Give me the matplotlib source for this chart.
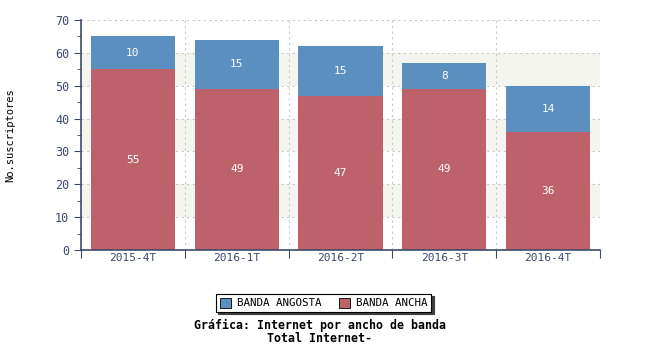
import matplotlib.pyplot as plt
import numpy as np

periodos = ["2015-4T", "2016-1T", "2016-2T", "2016-3T", "2016-4T"]
banda_ancha = [55, 49, 47, 49, 36]
banda_angosta = [10, 15, 15, 8, 14]

azul = "#5b8fbf"
rojo = "#bd616b"
eje = "#3d4a6b"

plt.rcParams["font.family"] = "DejaVu Sans Mono"

fig = plt.figure(figsize=(6.5, 3.5), dpi=100)
ax = fig.add_axes([0.1246, 0.2857, 0.7985, 0.6572])

x = np.arange(len(periodos))
ax.set_xlim(-0.5, len(periodos) - 0.5)
ax.set_ylim(0, 70)

# bandas alternas de fondo
for y0 in range(10, 70, 20):
    ax.axhspan(y0, y0 + 10, color="#f5f5f0", zorder=0, lw=0)

# rejilla punteada
for y in range(10, 71, 10):
    ax.axhline(y, color="#c8c8c8", ls=(0, (2, 3)), lw=0.8, zorder=1)
for xb in np.arange(0.5, len(periodos), 1):
    ax.axvline(xb, color="#c8c8c8", ls=(0, (2, 3)), lw=0.8, zorder=1)

ax.bar(x, banda_ancha, width=0.81, color=rojo, zorder=2, label="BANDA ANCHA")
ax.bar(x, banda_angosta, width=0.81, bottom=banda_ancha, color=azul, zorder=2,
       label="BANDA ANGOSTA")

for i in range(len(periodos)):
    ax.text(x[i], banda_ancha[i] / 2, str(banda_ancha[i]), ha="center", va="center",
            color="white", fontsize=8, zorder=3)
    ax.text(x[i], banda_ancha[i] + banda_angosta[i] / 2, str(banda_angosta[i]),
            ha="center", va="center", color="white", fontsize=8, zorder=3)

for s in ["top", "right"]:
    ax.spines[s].set_visible(False)
for s in ["left", "bottom"]:
    ax.spines[s].set_color(eje)
    ax.spines[s].set_linewidth(1.2)

ax.set_yticks(range(0, 71, 10))
ax.set_yticks(range(5, 70, 10), minor=True)
ax.set_xticks(np.arange(-0.5, len(periodos), 1))
ax.set_xticklabels([])
ax.set_xticks(x, minor=True)
ax.set_xticklabels(periodos, minor=True)
ax.tick_params(axis="x", which="major", length=6, color=eje)
ax.tick_params(axis="x", which="minor", length=0, pad=2, labelsize=8, labelcolor=eje)
ax.tick_params(axis="y", which="major", length=5, color=eje, labelsize=8.5, labelcolor=eje)
ax.tick_params(axis="y", which="minor", length=3, color=eje)

fig.text(0.016, 0.615, "No.suscriptores", rotation=90, ha="center", va="center",
         fontsize=7.5, color="black")

handles, labels = ax.get_legend_handles_labels()
leg = fig.legend(handles[::-1], labels[::-1], loc="center", bbox_to_anchor=(0.498, 0.134),
                 ncol=2, fontsize=7.8, frameon=True, fancybox=False,
                 shadow={"ox": 1.5, "oy": -1.5, "color": "#404040", "alpha": 1},
                 edgecolor="black", handlelength=1.0, handleheight=1.0,
                 borderpad=0.35, columnspacing=1.6, handletextpad=0.6)
leg.get_frame().set_linewidth(0.8)
for h in leg.legend_handles:
    h.set_edgecolor("black")
    h.set_linewidth(0.6)

fig.text(0.492, 0.071, "Gráfica: Internet por ancho de banda", ha="center", va="center",
         fontsize=8.4, fontweight="bold")
fig.text(0.492, 0.034, "Total Internet-", ha="center", va="center",
         fontsize=8.4, fontweight="bold")

fig.savefig("out.png", dpi=100)
